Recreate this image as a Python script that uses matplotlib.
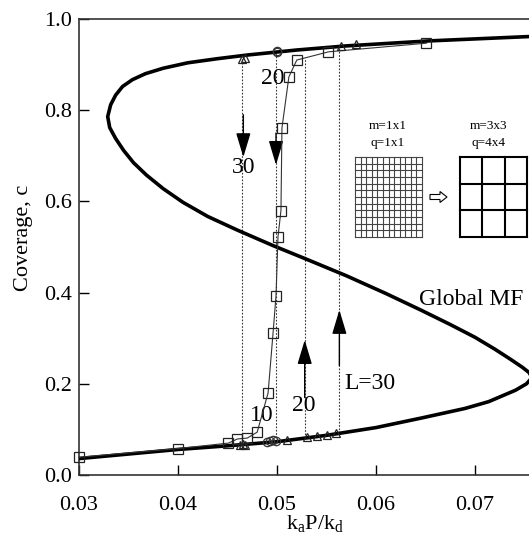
import matplotlib
matplotlib.use("Agg")
import matplotlib.pyplot as plt
from matplotlib.patches import FancyArrow

plt.rcParams['font.family'] = ['Liberation Serif', 'DejaVu Serif']
plt.rcParams['mathtext.fontset'] = 'custom'
plt.rcParams['mathtext.rm'] = 'Liberation Serif'
plt.rcParams['mathtext.default'] = 'regular'

# global mean-field S curve, traced along the curve from the lower branch
mf_x = [0.0300, 0.0350, 0.0400, 0.0450, 0.0500, 0.0550, 0.0600, 0.0646,
        0.0690, 0.0714, 0.0741, 0.0752, 0.0757, 0.0755, 0.0748, 0.0735,
        0.0720, 0.0700, 0.0675, 0.0645, 0.0610, 0.0570, 0.0530, 0.0495,
        0.0460, 0.0430, 0.0405, 0.0385, 0.0368, 0.0355, 0.0345, 0.0337,
        0.0331, 0.0329, 0.0332, 0.0337, 0.0344, 0.0354, 0.0367, 0.0385,
        0.0410, 0.0440, 0.0470, 0.0520, 0.0570, 0.0654, 0.0760]
mf_c = [0.036, 0.046, 0.056, 0.064, 0.073, 0.087, 0.104, 0.125,
        0.146, 0.161, 0.186, 0.200, 0.212, 0.224, 0.236, 0.255,
        0.276, 0.302, 0.330, 0.362, 0.398, 0.437, 0.473, 0.504,
        0.537, 0.567, 0.598, 0.628, 0.658, 0.685, 0.712, 0.738,
        0.762, 0.786, 0.812, 0.833, 0.852, 0.867, 0.880, 0.892,
        0.904, 0.913, 0.921, 0.932, 0.941, 0.952, 0.962]

# L=10 simulation (squares)
sq_x = [0.0300, 0.0400, 0.0451, 0.0460, 0.0470, 0.0480, 0.0491, 0.0496,
        0.0499, 0.0501, 0.0504, 0.0505, 0.0512, 0.0520, 0.0552, 0.0651]
sq_c = [0.039, 0.058, 0.070, 0.079, 0.081, 0.094, 0.180, 0.311,
        0.393, 0.522, 0.580, 0.761, 0.873, 0.910, 0.928, 0.947]

# L=20 simulation (circles)
ci_x = [0.0490, 0.0493, 0.0496, 0.0499, 0.0500, 0.0500]
ci_c = [0.073, 0.075, 0.076, 0.075, 0.928, 0.930]

# L=30 simulation (triangles)
tr_x = [0.0463, 0.0466, 0.0468, 0.0510, 0.0530, 0.0540, 0.0550, 0.0560,
        0.0465, 0.0468, 0.0565, 0.0580]
tr_c = [0.065, 0.068, 0.066, 0.076, 0.083, 0.086, 0.088, 0.092,
        0.912, 0.915, 0.940, 0.945]

# hysteresis jumps (dotted verticals)
jump_x = [0.0465, 0.0499, 0.0528, 0.0563]
jump_lo = [0.068, 0.075, 0.082, 0.092]
jump_hi = [0.912, 0.925, 0.915, 0.940]

xticks = [0.03, 0.04, 0.05, 0.06, 0.07]
yticks = [0.0, 0.2, 0.4, 0.6, 0.8, 1.0]

fig = plt.figure(figsize=(5.29, 5.45), dpi=100)
ax = fig.add_axes([79 / 529, 70 / 545, 495 / 529, 456 / 545])

ax.plot(mf_x, mf_c, color='black', lw=2.6, zorder=3,
        solid_joinstyle='round', solid_capstyle='round')
ax.plot(sq_x, sq_c, color='#333333', lw=0.8, marker='s', ms=7,
        mfc='none', mec='#222222', mew=0.9, zorder=4, clip_on=False)
ax.plot(ci_x, ci_c, ls='none', marker='o', ms=6, mfc='none',
        mec='#333333', mew=0.9, zorder=4)
ax.plot(tr_x, tr_c, ls='none', marker='^', ms=6, mfc='none',
        mec='#222222', mew=0.9, zorder=4)
for x, lo, hi in zip(jump_x, jump_lo, jump_hi):
    ax.plot([x, x], [lo, hi], color='#333333', lw=0.8, ls=(0, (1.5, 1.5)),
            zorder=2)

aprops = dict(arrowstyle='-|>,head_width=0.3,head_length=1.0',
              color='black', lw=1.0, mutation_scale=15, shrinkA=0, shrinkB=0)
ax.annotate('', xy=(0.0466, 0.697), xytext=(0.0466, 0.79), arrowprops=aprops)
ax.annotate('', xy=(0.0499, 0.68), xytext=(0.0499, 0.75), arrowprops=aprops)
ax.annotate('', xy=(0.0528, 0.296), xytext=(0.0528, 0.17), arrowprops=aprops)
ax.annotate('', xy=(0.0563, 0.362), xytext=(0.0563, 0.24), arrowprops=aprops)

fs = 17
ax.text(0.0466, 0.675, '30', fontsize=fs, ha='center', va='center')
ax.text(0.0496, 0.870, '20', fontsize=fs, ha='center', va='center')
ax.text(0.0485, 0.130, '10', fontsize=fs, ha='center', va='center')
ax.text(0.0527, 0.153, '20', fontsize=fs, ha='center', va='center')
ax.text(0.0568, 0.200, 'L=30', fontsize=fs, ha='left', va='center')
ax.text(0.0643, 0.384, 'Global MF', fontsize=fs, ha='left', va='center')

ax.set_xlim(0.03, 0.08)
ax.set_ylim(0.0, 1.0)
ax.set_xticks(xticks)
ax.set_xticklabels(['%.2f' % v for v in xticks])
ax.set_yticks(yticks)
ax.set_yticklabels(['%.1f' % v for v in yticks])
ax.tick_params(direction='in', length=7, width=1.0, labelsize=16, pad=5)
ax.tick_params(axis='x', pad=15)
for s in ax.spines.values():
    s.set_color('#333333')
    s.set_linewidth(1.2)
ax.set_xlabel('k$_a$P/k$_d$', fontsize=16)
ax.xaxis.set_label_coords(0.477, -0.083)
ax.set_ylabel('Coverage, c', fontsize=16)
ax.yaxis.set_label_coords(-0.093, 0.52)

# coarse-graining sketch, drawn in pixel units of the figure
ins = fig.add_axes([350 / 529, 300 / 545, 179 / 529, 130 / 545])
ins.set_xlim(350, 529)
ins.set_ylim(245, 115)
ins.axis('off')
for i in range(13):
    gx = 355 + i * (422 - 355) / 12
    gy = 157 + i * (237 - 157) / 12
    ins.plot([gx, gx], [157, 237], color='#444444', lw=0.8)
    ins.plot([355, 422], [gy, gy], color='#444444', lw=0.8)
for i in range(4):
    gx = 460 + i * (527 - 460) / 3
    gy = 157 + i * (237 - 157) / 3
    ins.plot([gx, gx], [157, 237], color='black', lw=1.5)
    ins.plot([460, 527], [gy, gy], color='black', lw=1.5)
ins.add_patch(FancyArrow(430, 197, 10, 0, width=5, head_width=11,
                         head_length=7, fc='white', ec='black', lw=0.8))
ins.text(388, 126, 'm=1x1', fontsize=9.5, ha='center', va='center')
ins.text(388, 143, 'q=1x1', fontsize=9.5, ha='center', va='center')
ins.text(489, 126, 'm=3x3', fontsize=9.5, ha='center', va='center')
ins.text(489, 143, 'q=4x4', fontsize=9.5, ha='center', va='center')

fig.savefig('out.png', dpi=100)
